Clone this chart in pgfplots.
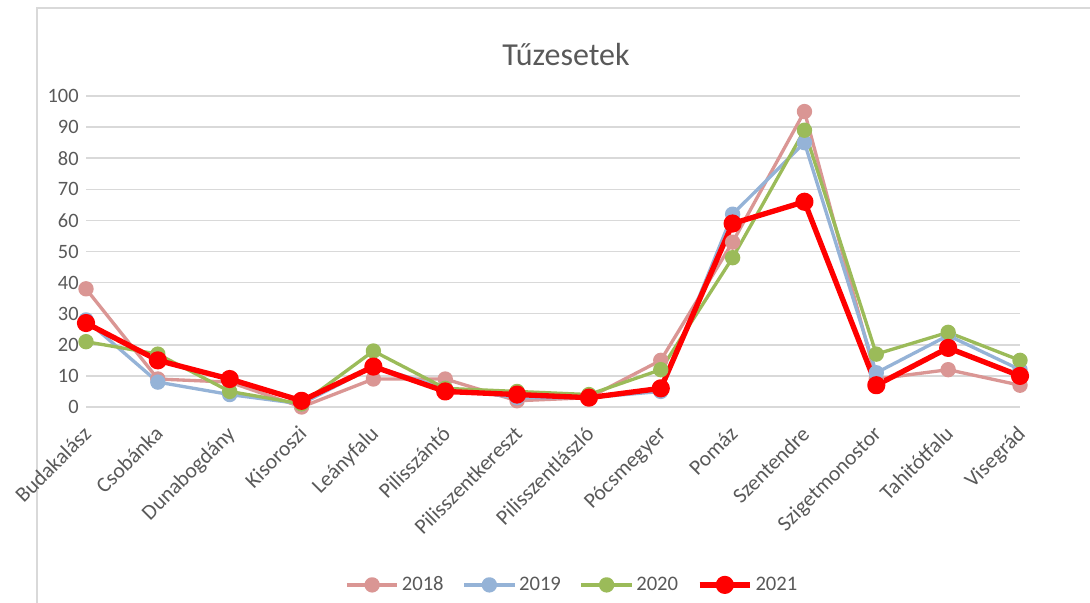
\documentclass[border=0pt]{standalone}
\usepackage{pgfplots}
\pgfplotsset{compat=1.18}
\usepackage{fontspec}
\setmainfont{Carlito}
\definecolor{c18}{HTML}{DA9694}
\definecolor{c19}{HTML}{95B3D7}
\definecolor{c20}{HTML}{9BBB59}
\definecolor{c21}{HTML}{FF0000}
\definecolor{txt}{HTML}{595959}
\definecolor{grd}{HTML}{D9D9D9}
\begin{document}
\begin{tikzpicture}
\useasboundingbox (0,0) rectangle (817.5pt,452.25pt);
\draw[grd, line width=0.9pt] (27.75pt,0pt) -- (27.75pt,446.25pt) -- (817.5pt,446.25pt);
\node[txt, font=\fontsize{24}{28}\selectfont] at (424.5pt,411pt) {Tűzesetek};
\begin{axis}[
  at={(64.5pt,147pt)}, anchor=south west,
  scale only axis, width=700.5pt, height=233.25pt,
  xmin=0, xmax=13, ymin=0, ymax=100,
  clip=false,
  axis line style={draw=none},
  major tick length=0pt,
  ymajorgrids, grid style={grd, line width=1.1pt},
  ytick={0,10,...,100},
  xtick={0,...,13},
  xticklabels={Budakalász,Csobánka,Dunabogdány,Kisoroszi,Leányfalu,Pilisszántó,Pilisszentkereszt,Pilisszentlászló,Pócsmegyer,Pomáz,Szentendre,Szigetmonostor,Tahitótfalu,Visegrád},
  /pgf/number format/assume math mode=true,
  tick label style={txt, font=\fontsize{15.3}{18}\selectfont},
  yticklabel style={xshift=-2pt},
  xticklabel style={font=\fontsize{16.2}{19}\selectfont, rotate=45, anchor=north east, inner sep=0pt, xshift=-11.5pt, yshift=-7pt},
  legend columns=4,
  legend style={at={(0.521,-0.572)}, anchor=center, draw=none, fill=none,
    font=\fontsize{15.5}{18}\selectfont, text=txt,
    /tikz/every even column/.append style={column sep=12pt}},
  legend image code/.code={\draw[mark repeat=2,mark phase=2,#1] plot coordinates {(0pt,0pt)(19pt,0pt)(38pt,0pt)};},
  every axis plot/.append style={mark=*, line join=round},
]
\addplot[c18, line width=2.5pt, mark size=4.5pt, mark options={fill=c18, draw=c18}] coordinates {
(0,38)(1,9)(2,8)(3,0)(4,9)(5,9)(6,2)(7,3)(8,15)(9,53)(10,95)(11,9)(12,12)(13,7)};
\addlegendentry{2018}
\addplot[c19, line width=2.5pt, mark size=4.5pt, mark options={fill=c19, draw=c19}] coordinates {
(0,28)(1,8)(2,4)(3,1)(4,13)(5,6)(6,3)(7,3)(8,5)(9,62)(10,85)(11,11)(12,23)(13,12)};
\addlegendentry{2019}
\addplot[c20, line width=2.5pt, mark size=4.5pt, mark options={fill=c20, draw=c20}] coordinates {
(0,21)(1,17)(2,5)(3,1)(4,18)(5,6)(6,5)(7,4)(8,12)(9,48)(10,89)(11,17)(12,24)(13,15)};
\addlegendentry{2020}
\addplot[c21, line width=4pt, mark size=4.8pt, mark options={fill=c21, draw=c21}] coordinates {
(0,27)(1,15)(2,9)(3,2)(4,13)(5,5)(6,4)(7,3)(8,6)(9,59)(10,66)(11,7)(12,19)(13,10)};
\addlegendentry{2021}
\end{axis}
\end{tikzpicture}
\end{document}
